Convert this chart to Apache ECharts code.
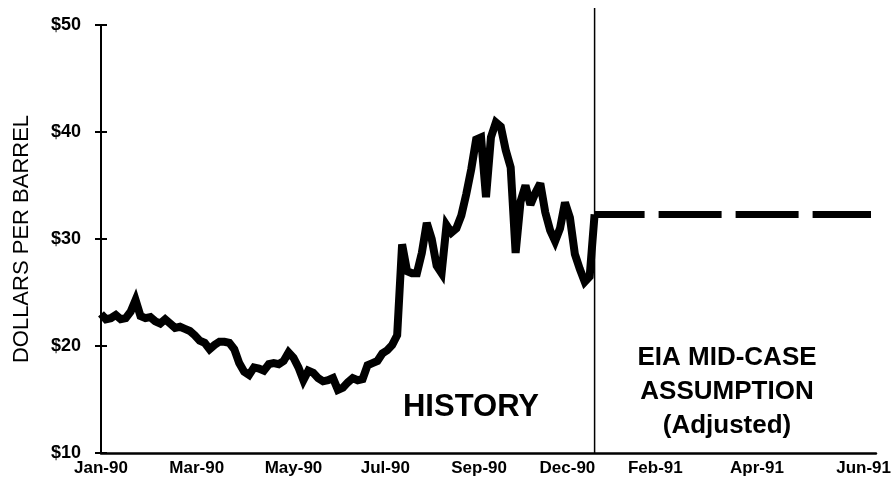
<!DOCTYPE html>
<html>
<head>
<meta charset="utf-8">
<script src="https://cdn.jsdelivr.net/npm/echarts@6/dist/echarts.min.js"></script>
<style>
html, body { margin: 0; padding: 0; background: #fff; }
#main { width: 894px; height: 500px; }
</style>
</head>
<body>
<div id="main"></div>
<script>
// x axis runs in small steps (one per history point)
var tickLabels = ['Jan-90', 'Mar-90', 'May-90', 'Jul-90', 'Sep-90', 'Dec-90', 'Feb-91', 'Apr-91', 'Jun-91'];
var tickPos = [0, 19.4, 39, 57.6, 76.6, 94.5, 112.3, 132.9, 154.5];
var yTicks = [10, 20, 30, 40, 50];

// spot price, dollars per barrel
var priceHistory = [
    23.0, 22.5, 22.6, 22.9, 22.5, 22.6, 23.2, 24.3, 22.8, 22.6,
    22.7, 22.3, 22.1, 22.5, 22.1, 21.7, 21.8, 21.6, 21.4, 21.0,
    20.5, 20.3, 19.7, 20.1, 20.4, 20.4, 20.3, 19.7, 18.4, 17.6,
    17.3, 18.0, 17.9, 17.7, 18.3, 18.4, 18.3, 18.6, 19.4, 18.9,
    18.0, 16.8, 17.7, 17.5, 17.0, 16.7, 16.8, 17.0, 15.9, 16.1,
    16.6, 17.0, 16.8, 16.9, 18.2, 18.4, 18.6, 19.3, 19.6, 20.1,
    21.0, 29.5, 27.0, 26.8, 26.8, 28.7, 31.5, 30.0, 27.5, 26.8,
    31.3, 30.6, 31.0, 32.2, 34.2, 36.5, 39.3, 39.5, 33.9, 39.5,
    40.9, 40.5, 38.3, 36.7, 28.7, 33.5, 35.0, 33.2, 34.3, 35.2,
    32.5, 30.8, 29.8, 31.0, 33.4, 32.0, 28.6, 27.2, 26.0, 26.5,
    32.3
];

// EIA mid-case assumption
var caseStart = 100;
var caseEnd = 156;
var caseValue = 32.3;
var axisEnd = 157;
var dividerTop = 51.6;

var myChart = echarts.init(document.getElementById('main'));

var histData = priceHistory.map(function (v, i) { return [i, v]; });
var caseData = [[caseStart, caseValue], [caseEnd, caseValue]];

var font = 'Liberation Sans, Arial, Helvetica, sans-serif';

var option = {
    animation: false,
    grid: { left: 101, right: 894 - 877, top: 25, bottom: 47 },
    xAxis: {
        type: 'value',
        min: 0,
        max: axisEnd,
        axisLine: { show: true, lineStyle: { color: '#000', width: 2.5 } },
        axisTick: { show: false },
        splitLine: { show: false },
        axisLabel: {
            customValues: tickPos,
            margin: 7,
            color: '#000',
            fontFamily: font,
            fontWeight: 'bold',
            fontSize: 17,
            formatter: function (v) {
                var best = 0;
                for (var i = 1; i < tickPos.length; i++) {
                    if (Math.abs(tickPos[i] - v) < Math.abs(tickPos[best] - v)) best = i;
                }
                return tickLabels[best];
            }
        }
    },
    yAxis: [{
        type: 'value',
        min: yTicks[0],
        max: yTicks[yTicks.length - 1],
        interval: 10,
        name: 'DOLLARS PER BARREL',
        nameLocation: 'middle',
        nameRotate: 90,
        nameGap: 68,
        nameTextStyle: { color: '#000', fontFamily: font, fontSize: 22 },
        axisLine: { show: true, lineStyle: { color: '#000', width: 2 } },
        axisTick: { show: true, length: 6, lineStyle: { color: '#000', width: 2 } },
        splitLine: { show: false },
        axisLabel: {
            margin: 20,
            color: '#000',
            fontFamily: font,
            fontWeight: 'bold',
            fontSize: 18,
            formatter: function (v) { return '$' + v; }
        }
    }, {
        // inner half of the cross ticks
        type: 'value',
        position: 'left',
        min: yTicks[0],
        max: yTicks[yTicks.length - 1],
        interval: 10,
        axisLine: { show: false },
        axisTick: { show: true, inside: true, length: 6, lineStyle: { color: '#000', width: 2 } },
        axisLabel: { show: false },
        splitLine: { show: false }
    }],
    series: [
        {
            name: 'History',
            type: 'line',
            data: histData,
            showSymbol: false,
            symbol: 'none',
            lineStyle: { color: '#000', width: 8, join: 'miter', miterLimit: 3 }
        },
        {
            name: 'EIA Mid-Case',
            type: 'line',
            data: caseData,
            showSymbol: false,
            symbol: 'none',
            lineStyle: { color: '#000', width: 7, type: [63, 14], dashOffset: 13, cap: 'butt' }
        }
    ]
};
myChart.setOption(option);

// divider between history and assumption, placed from the axis scales
var pBottom = myChart.convertToPixel({ gridIndex: 0 }, [caseStart, yTicks[0]]);
var pTop = myChart.convertToPixel({ gridIndex: 0 }, [caseStart, dividerTop]);
myChart.setOption({
    graphic: [
        {
            type: 'line',
            silent: true,
            shape: { x1: pBottom[0], y1: pBottom[1], x2: pTop[0], y2: pTop[1] },
            style: { stroke: '#000', lineWidth: 1.5 }
        },
        {
            type: 'text',
            x: 471,
            y: 407,
            style: {
                text: 'HISTORY',
                fill: '#000',
                font: 'bold 31px ' + font,
                textAlign: 'center',
                textVerticalAlign: 'middle'
            }
        },
        {
            type: 'text',
            x: 727,
            y: 341,
            style: {
                text: 'EIA MID-CASE\nASSUMPTION\n(Adjusted)',
                fill: '#000',
                font: 'bold 26px ' + font,
                lineHeight: 34,
                textAlign: 'center',
                textVerticalAlign: 'top'
            }
        }
    ]
});
</script>
</body>
</html>
